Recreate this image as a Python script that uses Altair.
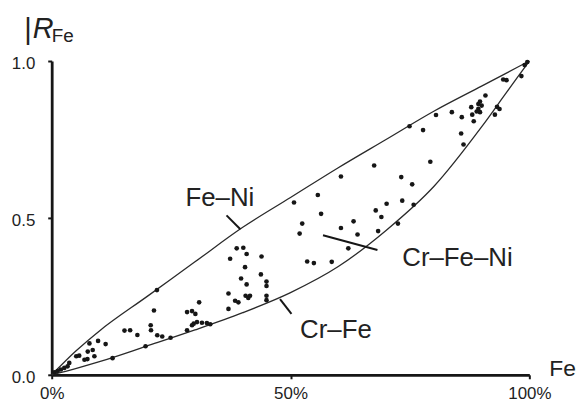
import altair as alt
import pandas as pd

FONT = "Liberation Sans"
INK = "#161616"

# ---- scatter points: Fe content (%) vs R_Fe ----
fe_pct = [0.56, 1.25, 1.93, 2.64, 3.33, 3.68, 5.14, 5.76, 6.86, 7.48,
          7.55, 8.59, 8.94, 7.90, 9.71, 11.29, 12.74, 15.24, 16.42, 17.94,
          19.65, 20.73, 20.79, 21.41, 22.04, 22.10, 23.14, 24.89, 28.34, 29.38,
          29.73, 30.42, 31.46, 32.49, 33.20, 28.34, 29.38, 30.08, 30.87, 37.01,
          37.01, 37.36, 38.40, 39.09, 38.73, 40.12, 40.81, 40.48, 39.65, 40.81,
          40.60, 41.16, 41.52, 43.80, 43.93, 44.97, 44.97, 44.97, 44.97, 50.73,
          51.91, 52.45, 53.49, 54.89, 55.72, 56.40, 58.63, 60.56, 60.56, 62.10,
          63.20, 64.03, 67.51, 67.84, 68.34, 69.02, 70.12, 72.49, 73.18, 73.39,
          75.47, 75.78, 74.91, 77.75, 79.27, 80.46, 83.78, 85.72, 86.22, 85.86,
          87.84, 88.05, 88.36, 89.33, 89.67, 90.02, 89.33, 88.98, 89.67, 90.81,
          93.24, 93.76, 92.79, 94.53, 95.22, 98.34, 99.02, 99.58]
r_fe = [0.008, 0.012, 0.017, 0.022, 0.027, 0.038, 0.059, 0.061, 0.048, 0.050,
        0.074, 0.079, 0.059, 0.100, 0.108, 0.098, 0.053, 0.141, 0.142, 0.127,
        0.091, 0.158, 0.142, 0.205, 0.270, 0.126, 0.122, 0.118, 0.142, 0.158,
        0.163, 0.168, 0.166, 0.165, 0.161, 0.200, 0.203, 0.194, 0.231, 0.259,
        0.210, 0.370, 0.236, 0.231, 0.403, 0.405, 0.385, 0.343, 0.307, 0.288,
        0.252, 0.245, 0.252, 0.320, 0.377, 0.297, 0.283, 0.252, 0.238, 0.549,
        0.450, 0.482, 0.361, 0.356, 0.573, 0.513, 0.360, 0.632, 0.468, 0.403,
        0.489, 0.447, 0.667, 0.524, 0.458, 0.503, 0.545, 0.482, 0.630, 0.555,
        0.607, 0.542, 0.792, 0.780, 0.679, 0.828, 0.837, 0.769, 0.734, 0.821,
        0.853, 0.829, 0.808, 0.863, 0.871, 0.858, 0.848, 0.839, 0.837, 0.890,
        0.854, 0.847, 0.829, 0.941, 0.939, 0.952, 0.987, 0.997]

# ---- boundary curves ----
curve_fe = [0, 5, 10, 20, 30, 40, 50, 60, 70, 80, 90, 95, 100]
fe_ni_r = [0, 0.075, 0.14, 0.25, 0.36, 0.47, 0.565, 0.66, 0.75, 0.84, 0.92, 0.96, 1.0]
cr_fe_r = [0, 0.02, 0.042, 0.092, 0.143, 0.198, 0.262, 0.345, 0.46, 0.6, 0.79, 0.895, 1.0]

# ---- curve labels and their leader lines ----
label_text = ["Fe–Ni", "Cr–Fe–Ni", "Cr–Fe"]
label_fe = [28.0, 73.4, 52.0]
label_r = [0.539, 0.348, 0.116]
lead_fe1 = [36.6, 56.8, 47.8]
lead_r1 = [0.508, 0.445, 0.241]
lead_fe2 = [39.5, 68.2, 50.2]
lead_r2 = [0.464, 0.398, 0.194]

x_ticks = [0, 50, 100]
y_ticks = [0, 0.5, 1.0]

pts = pd.DataFrame({"fe": fe_pct, "r": r_fe})
n = len(curve_fe)
curves = pd.DataFrame({
    "fe": curve_fe + curve_fe,
    "r": fe_ni_r + cr_fe_r,
    "curve": ["Fe–Ni"] * n + ["Cr–Fe"] * n,
})
labels = pd.DataFrame({"text": label_text, "fe": label_fe, "r": label_r})
leads = pd.DataFrame({"fe": lead_fe1, "r": lead_r1, "fe2": lead_fe2, "r2": lead_r2})

xs = alt.Scale(domain=[0, 100], nice=False, zero=False)
ys = alt.Scale(domain=[0, 1], nice=False, zero=False)

x_axis = alt.Axis(values=x_ticks, labelExpr="datum.value + '%'", title=None,
                  grid=False, domain=True, ticks=True, domainColor=INK,
                  domainWidth=2.8, tickColor=INK, tickWidth=2, tickSize=4,
                  labelFont=FONT, labelFontSize=17, labelColor="#222",
                  labelPadding=7, labelFlush=False)
y_axis = alt.Axis(values=y_ticks, format=".1f", title=None, grid=False,
                  domain=True, ticks=True, domainColor=INK, domainWidth=2.8,
                  tickColor=INK, tickWidth=2, tickSize=4, labelFont=FONT,
                  labelFontSize=17, labelColor="#222", labelPadding=13,
                  labelOffset=3)

X = alt.X("fe:Q", scale=xs, axis=x_axis)
Y = alt.Y("r:Q", scale=ys, axis=y_axis)

curve_layer = alt.Chart(curves).mark_line(
    color="#2a2a2a", strokeWidth=1.3, interpolate="monotone"
).encode(x=X, y=Y, detail="curve:N")

point_layer = alt.Chart(pts).mark_circle(size=22, color=INK, opacity=1).encode(
    x=X, y=Y
)

lead_layer = alt.Chart(leads).mark_rule(color=INK, strokeWidth=2).encode(
    x=X, y=Y, x2="fe2:Q", y2="r2:Q"
)

label_layer = alt.Chart(labels).mark_text(
    align="left", baseline="alphabetic", font=FONT, fontSize=26, color="#222"
).encode(x=X, y=Y, text="text:N")

bar_title = alt.Chart(pd.DataFrame({"t": ["|"]})).mark_text(
    align="center", baseline="alphabetic", font=FONT, fontSize=29, color="#222"
).encode(x=alt.value(-24), y=alt.value(-22), text="t:N")

r_title = alt.Chart(pd.DataFrame({"t": ["R"]})).mark_text(
    align="left", baseline="alphabetic", font=FONT, fontSize=29,
    fontStyle="italic", color="#222"
).encode(x=alt.value(-19), y=alt.value(-23), text="t:N")

sub_title = alt.Chart(pd.DataFrame({"t": ["Fe"]})).mark_text(
    align="left", baseline="alphabetic", font=FONT, fontSize=19, color="#222"
).encode(x=alt.value(0), y=alt.value(-19), text="t:N")

x_title = alt.Chart(pd.DataFrame({"t": ["Fe"]})).mark_text(
    align="left", baseline="alphabetic", font=FONT, fontSize=23, color="#222"
).encode(x=alt.value(501), y=alt.value(317), text="t:N")

chart = alt.layer(
    curve_layer, point_layer, lead_layer, label_layer,
    bar_title, r_title, sub_title, x_title,
).properties(
    width=481,
    height=316,
    autosize=alt.AutoSizeParams(type="none"),
    padding={"left": 44, "top": 52, "right": 48, "bottom": 27},
    background="white",
).configure_view(stroke=None)

chart.save("out.html", embed_options={"renderer": "svg", "actions": False})
